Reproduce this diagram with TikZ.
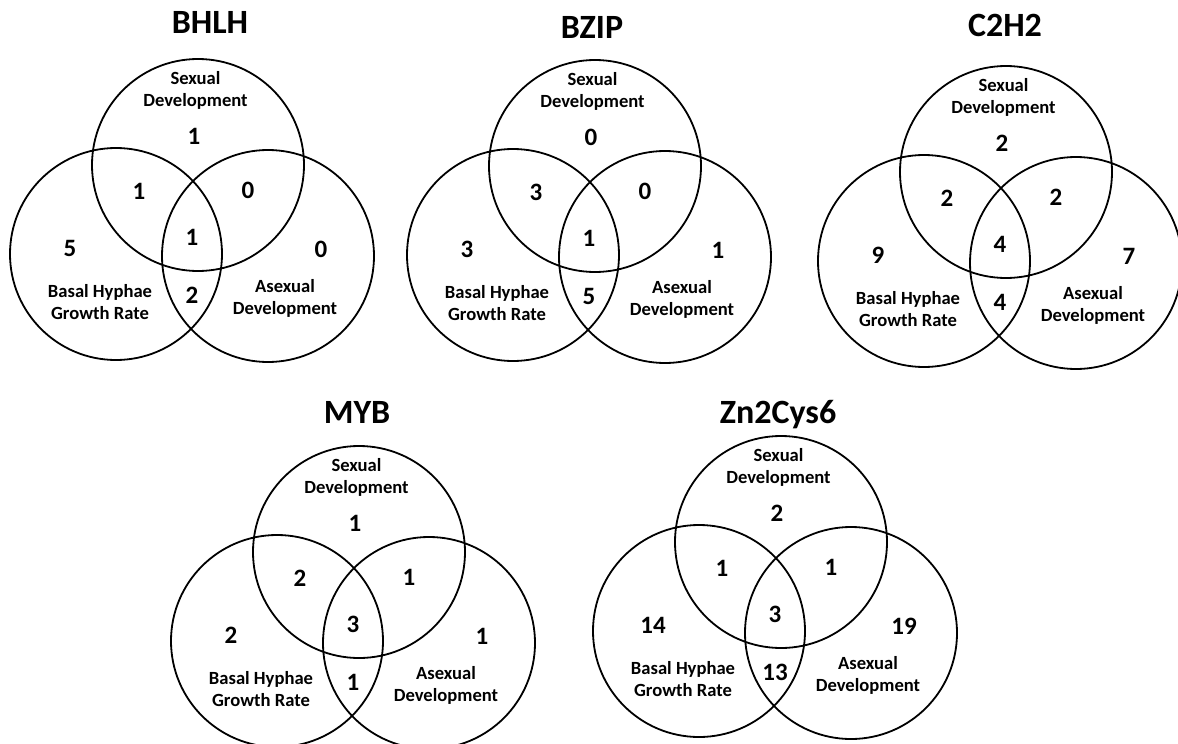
\documentclass[tikz,border=0pt]{standalone}
\usepackage{fontspec}
\setmainfont{Carlito}
\begin{document}
\begin{tikzpicture}[x=1pt,y=-1pt,
  ttl/.style={font=\fontsize{34}{40}\selectfont\bfseries,inner sep=0pt},
  lbl/.style={font=\fontsize{18.6}{22}\selectfont\bfseries,align=center,inner sep=0pt},
  num/.style={font=\fontsize{25}{28}\selectfont\bfseries,inner sep=0pt},
  pics/venn/.style={code={
     \tikzset{venn/.cd,#1}
     \def\pv##1{\pgfkeysvalueof{/tikz/venn/##1}}
     \draw[line width=1.8pt] (0,0) circle[radius=106pt]
      (-82,89) circle[radius=106pt] (70,91) circle[radius=106pt];
     \node[ttl] (-title) at (\pv{tx},\pv{ty}) {\pv{title}};
     \node[lbl] (-sex) at (-2.5,-75) {Sexual\\Development};
     \node[lbl] (-bas) at (-98,137) {Basal Hyphae\\Growth Rate};
     \node[lbl] (-asex) at (87,133) {Asexual\\Development};
     \node[num] (-s) at (-4,-29) {\pv{s}};
     \node[num] (-sb) at (-59,26) {\pv{sb}};
     \node[num] (-sa) at (50,25) {\pv{sa}};
     \node[num] (-sba) at (-6,72) {\pv{sba}};
     \node[num] (-b) at (-128,83) {\pv{b}};
     \node[num] (-a) at (123,84) {\pv{a}};
     \node[num] (-ba) at (-6,130) {\pv{ba}};
    }},venn/.cd,title/.initial={},tx/.initial=-3,ty/.initial=-140,
    s/.initial=0,sb/.initial=0,sa/.initial=0,sba/.initial=0,
    b/.initial=0,a/.initial=0,ba/.initial=0]
 \useasboundingbox (0,0) rectangle (1178,744);
 % top row
 \pic (bhlh) at (198,165) {venn={title=BHLH,tx=12,ty=-143,
   s=1,sb=1,sa=0,sba=1,b=5,a=0,ba=2}};
 \pic (bzip) at (595,166) {venn={title=BZIP,ty=-139,
   s=0,sb=3,sa=0,sba=1,b=3,a=1,ba=5}};
 \pic (c2h2) at (1006,172) {venn={title=C2H2,tx=-1,ty=-147,
   s=2,sb=2,sa=2,sba=4,b=9,a=7,ba=4}};
 % bottom row
 \pic (myb) at (359,552) {venn={title=MYB,tx=-2,
   s=1,sb=2,sa=1,sba=3,b=2,a=1,ba=1}};
 \pic (zn) at (781,542) {venn={title=Zn2Cys6,ty=-127,
   s=2,sb=1,sa=1,sba=3,b=14,a=19,ba=13}};
\end{tikzpicture}
\end{document}
